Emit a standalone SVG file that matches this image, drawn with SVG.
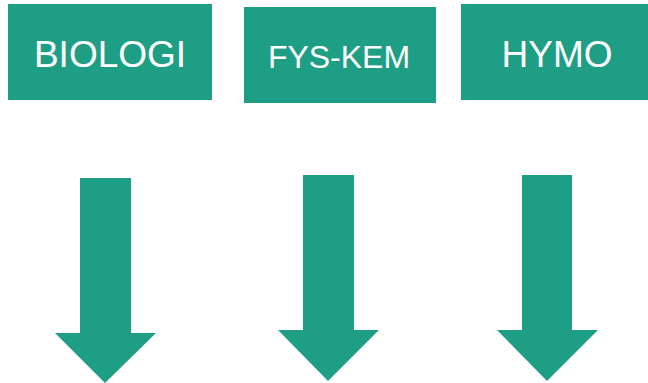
<svg xmlns="http://www.w3.org/2000/svg" width="648" height="383" viewBox="0 0 648 383">
<style>
.box{fill:#1E9F85}
.arrow{fill:#1E9F85}
.lbl{fill:#ffffff;font-family:"Liberation Sans",Arial,sans-serif;text-anchor:middle}
</style>
<rect width="648" height="383" fill="#ffffff"/>
<g id="biologi">
<rect class="box" x="8" y="4" width="204" height="96"/>
<text class="lbl" x="110" y="67" font-size="37">BIOLOGI</text>
</g>
<g id="fys-kem">
<rect class="box" x="244" y="7" width="192" height="96"/>
<text class="lbl" x="339" y="68" font-size="32">FYS-KEM</text>
</g>
<g id="hymo">
<rect class="box" x="461" y="4" width="187" height="96"/>
<text class="lbl" x="557" y="67" font-size="37">HYMO</text>
</g>
<g id="connectors">
<polygon class="arrow" points="80,178 131,178 131,333 156,333 105,383 55,333 80,333"/>
<polygon class="arrow" points="303,175 354,175 354,330 379,330 328,381 278,330 303,330"/>
<polygon class="arrow" points="522,175 572,175 572,330 598,330 547,381 497,330 522,330"/>
</g>
</svg>
